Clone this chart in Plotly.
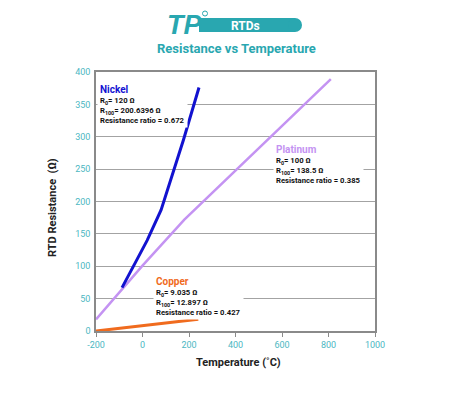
import plotly.graph_objects as go

# ---- data ----
nickel_temp = [-88, 20, 80, 176, 243]
nickel_res = [67, 140, 187, 295, 376]
platinum_temp = [-200, 0, 180, 810]
platinum_res = [18, 101, 172, 389]
copper_temp = [-200, 240]
copper_res = [0, 18]

x_ticks = [-200, 0, 200, 400, 600, 800, 1000]
x_tick_labels = ["-200", "0", "200", "400", "600", "800", "1000"]
y_ticks = [0, 50, 100, 150, 200, 250, 300, 350, 400]

TEAL = "#29a7b0"
TICK = "#4cb7c2"
FONT = "Liberation Sans Narrow, Roboto, Arial, sans-serif"

fig = go.Figure()
fig.add_trace(go.Scatter(x=platinum_temp, y=platinum_res, mode="lines",
                         line=dict(color="#c493f2", width=2.5), showlegend=False))
fig.add_trace(go.Scatter(x=copper_temp, y=copper_res, mode="lines",
                         line=dict(color="#f06b1e", width=3), showlegend=False))
fig.add_trace(go.Scatter(x=nickel_temp, y=nickel_res, mode="lines",
                         line=dict(color="#1212cf", width=3), showlegend=False))

fig.update_layout(
    width=474, height=395,
    margin=dict(l=96, r=99, t=72, b=64),
    paper_bgcolor="white", plot_bgcolor="white",
    font=dict(family=FONT, color="#222"),
    xaxis=dict(range=[-200, 1000], tickvals=x_ticks, ticktext=x_tick_labels,
               showgrid=False,
               showline=True, linecolor="#8a8a8a", linewidth=2, mirror=True,
               ticks="outside", ticklen=4, tickcolor="#8a8a8a", tickwidth=1,
               tickfont=dict(family="Roboto", size=9, color=TICK), zeroline=False),
    yaxis=dict(range=[0, 400], tickvals=y_ticks, showgrid=True,
               gridcolor="#a3a3a3", gridwidth=1.2,
               showline=True, linecolor="#8a8a8a", linewidth=1.5, mirror=True,
               tickfont=dict(family="Roboto", size=9, color=TICK), zeroline=False,
               ticklabelstandoff=2),
)

def px_x(p):
    return (p - 96) / 279.0

def px_y(p):
    return (331 - p) / 259.0

def centered(x, y, text, font, **kw):
    d = dict(x=px_x(x), y=px_y(y), xref="paper", yref="paper", text=text,
             showarrow=False, xanchor="center", yanchor="middle", font=font)
    d.update(kw)
    return d

anns = []
# axis titles
anns.append(centered(238, 362, "<b>Temperature (˚C)</b>",
                     dict(family=FONT, size=11, color="#222")))
anns.append(centered(52, 208, "<b>RTD Resistance  (Ω)</b>",
                     dict(family=FONT, size=11, color="#222"), textangle=-90))

def block(name, color, lines, x, ytop):
    txt = "<b><span style='color:%s;font-size:10px'>%s</span></b><br>" % (color, name)
    txt += "<br>".join("<b>%s</b>" % l for l in lines)
    return dict(x=px_x(x), y=px_y(ytop), xref="paper", yref="paper",
                xanchor="left", yanchor="top", align="left", showarrow=False,
                text=txt, bgcolor="white", borderpad=2,
                font=dict(family=FONT, size=7.7, color="#111"))

anns.append(block("Nickel", "#1414d2",
                  ["R<sub>0</sub>= 120 Ω", "R<sub>100</sub>= 200.6396 Ω",
                   "Resistance ratio = 0.672"], 97, 81))
anns.append(block("Platinum", "#c493f2",
                  ["R<sub>0</sub>= 100 Ω", "R<sub>100</sub>= 138.5 Ω",
                   "Resistance ratio = 0.385"], 273, 141))
anns.append(block("Copper", "#f06b1e",
                  ["R<sub>0</sub>= 9.035 Ω", "R<sub>100</sub>= 12.897 Ω",
                   "Resistance ratio = 0.427"], 153, 273))

# header
anns.append(centered(184, 25, "<b><i>TP</i></b>",
                     dict(family="Liberation Sans", size=27, color=TEAL)))
anns.append(centered(245, 25.5, "<b>RTDs</b>",
                     dict(family="Roboto", size=12, color="white")))
anns.append(centered(236, 48.5, "<b>Resistance vs Temperature</b>",
                     dict(family="Roboto", size=13, color=TEAL)))
fig.update_layout(annotations=anns)

shapes = [
    dict(type="rect", xref="paper", yref="paper", x0=px_x(199), x1=px_x(295),
         y0=px_y(32), y1=px_y(18), fillcolor=TEAL, line=dict(width=0), layer="below"),
    dict(type="circle", xref="paper", yref="paper", x0=px_x(288), x1=px_x(302),
         y0=px_y(32), y1=px_y(18), fillcolor=TEAL, line=dict(width=0), layer="below"),
    dict(type="circle", xref="paper", yref="paper", x0=px_x(202.5), x1=px_x(207.5),
         y0=px_y(16), y1=px_y(11), fillcolor="white", line=dict(color=TEAL, width=1)),
]
fig.update_layout(shapes=shapes)

fig.write_html("out.html", config={"displayModeBar": False},
               post_script="document.body.style.margin='0';")
